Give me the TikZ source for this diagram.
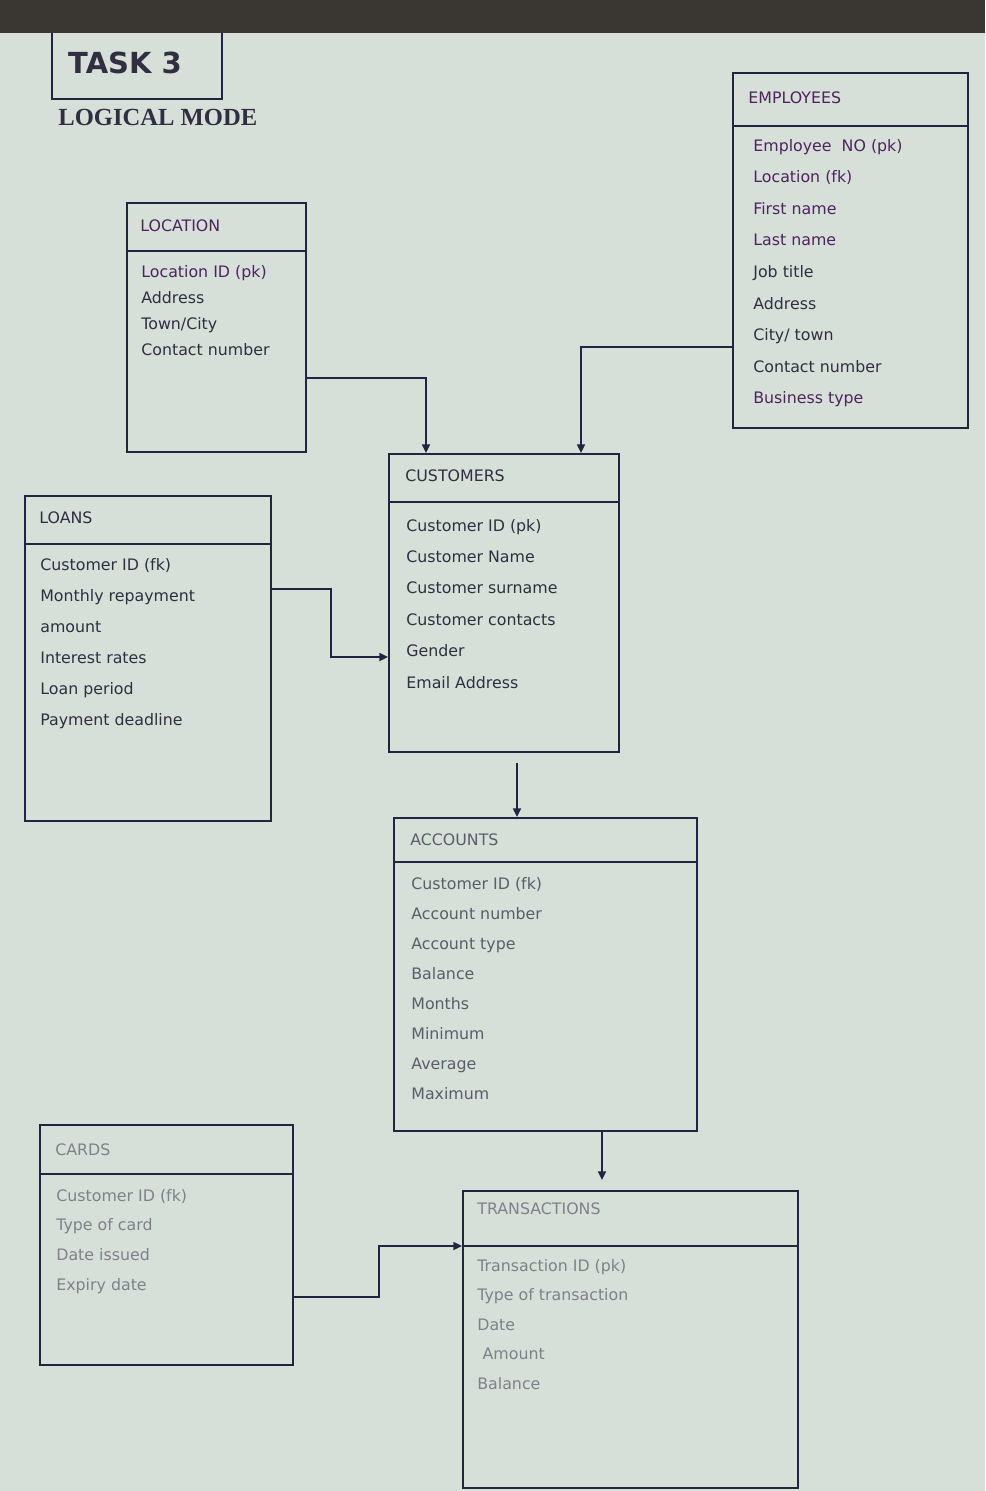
\documentclass[tikz,border=0pt]{standalone}
\usepackage{fontspec}
\setmainfont{DejaVu Sans}
\newfontfamily\serifbold{Liberation Serif}
\usetikzlibrary{arrows.meta,fit}

\definecolor{screen}{RGB}{214,224,216}
\definecolor{bezel}{RGB}{58,54,50}
\definecolor{edge}{RGB}{32,38,62}
\definecolor{inkpurple}{RGB}{78,36,92}
\definecolor{inkdark}{RGB}{48,46,64}
\definecolor{inkgrey}{RGB}{92,92,106}
\definecolor{inkpale}{RGB}{128,128,138}

\tikzset{
	tablebox/.style={draw=edge, line width=1.1pt, inner sep=0pt, fit={#1}},
	divider/.style={draw=edge, line width=1.5pt},
	tabletitle/.style={anchor=base west, inner sep=0pt, font=\fontsize{9}{11}\selectfont},
	rowtext/.style={anchor=base west, inner sep=0pt, font=\fontsize{9}{11}\selectfont},
	link/.style={draw=edge, line width=1.1pt, -{Triangle[length=5pt,width=4.5pt]}},
}

\begin{document}
\begin{tikzpicture}[x=0.02cm, y=-0.02cm]
\useasboundingbox (0,0) rectangle (985,1491);
\fill[screen] (0,0) rectangle (985,1491);

% title
\node[tablebox={(52,28) (222,99)}] (task) {};
\fill[bezel] (0,0) rectangle (985,33);
\node[font=\bfseries\fontsize{16.5}{18}\selectfont, text=inkdark] (task-label) at (125,63) {TASK 3};
\node[anchor=base west, inner sep=0pt, font=\serifbold\bfseries\fontsize{14}{16}\selectfont, text=inkdark] (mode) at (58,125) {LOGICAL MODE};

% employees
\node[tablebox={(733,73) (968,428)}] (emp) {};
\draw[divider] (emp.west |- 0,126) -- (emp.east |- 0,126);
\node[tabletitle, text=inkpurple] (emp-title) at (748,103) {EMPLOYEES};
\foreach \r [count=\i from 0] in {Employee\ \ NO (pk), Location (fk), First name, Last name,
	{\textcolor{inkdark}{Job title}}, {\textcolor{inkdark}{Address}}, {\textcolor{inkdark}{City/ town}},
	{\textcolor{inkdark}{Contact number}}, Business type}
	\node[rowtext, text=inkpurple] (emp-\i) at (753,151+31.6*\i) {\r};

% location
\node[tablebox={(127,203) (306,452)}] (loc) {};
\draw[divider] (loc.west |- 0,251) -- (loc.east |- 0,251);
\node[tabletitle, text=inkpurple] (loc-title) at (140,231) {LOCATION};
\foreach \r [count=\i from 0] in {{\textcolor{inkpurple}{Location ID (pk)}}, Address, Town/City, Contact number}
	\node[rowtext, text=inkdark] (loc-\i) at (141,277+26*\i) {\r};

% customers
\node[tablebox={(389,454) (619,752)}] (cust) {};
\draw[divider] (cust.west |- 0,502) -- (cust.east |- 0,502);
\node[tabletitle, text=inkdark] (cust-title) at (405,481) {CUSTOMERS};
\foreach \r [count=\i from 0] in {Customer ID (pk), Customer Name, Customer surname, Customer contacts, Gender, Email Address}
	\node[rowtext, text=inkdark] (cust-\i) at (406,531+31.4*\i) {\r};

% loans
\node[tablebox={(25,496) (271,821)}] (loans) {};
\draw[divider] (loans.west |- 0,544) -- (loans.east |- 0,544);
\node[tabletitle, text=inkdark] (loans-title) at (39,523) {LOANS};
\foreach \r [count=\i from 0] in {Customer ID (fk), Monthly repayment, amount, Interest rates, Loan period, Payment deadline}
	\node[rowtext, text=inkdark] (loans-\i) at (40,570+31*\i) {\r};

% accounts
\node[tablebox={(394,818) (697,1131)}] (acc) {};
\draw[divider] (acc.west |- 0,862) -- (acc.east |- 0,862);
\node[tabletitle, text=inkgrey] (acc-title) at (410,845) {ACCOUNTS};
\foreach \r [count=\i from 0] in {Customer ID (fk), Account number, Account type, Balance, Months, Minimum, Average, Maximum}
	\node[rowtext, text=inkgrey] (acc-\i) at (411,889+30.1*\i) {\r};

% cards
\node[tablebox={(40,1125) (293,1365)}] (cards) {};
\draw[divider] (cards.west |- 0,1174) -- (cards.east |- 0,1174);
\node[tabletitle, text=inkpale] (cards-title) at (55,1155) {CARDS};
\foreach \r [count=\i from 0] in {Customer ID (fk), Type of card, Date issued, Expiry date}
	\node[rowtext, text=inkpale] (cards-\i) at (56,1201+29.7*\i) {\r};

% transactions
\node[tablebox={(463,1191) (798,1488)}] (trans) {};
\draw[divider] (trans.west |- 0,1246) -- (trans.east |- 0,1246);
\node[tabletitle, text=inkpale] (trans-title) at (477,1214) {TRANSACTIONS};
\foreach \r [count=\i from 0] in {Transaction ID (pk), Type of transaction, Date, {\hspace{3pt}Amount}, Balance}
	\node[rowtext, text=inkpale] (trans-\i) at (477,1271+29.5*\i) {\r};

% relationships
\draw[link] (loc.east |- 0,378) -| (cust.north -| 426,0);
\draw[link] (emp.west |- 0,347) -| (cust.north -| 581,0);
\draw[link] (loans.east |- 0,589) -- ++(59,0) |- (cust.west |- 0,657);
\draw[link, shorten <=0.2cm] (cust.south -| 517,0) -- (acc.north -| 517,0);
\draw[link, shorten >=0.2cm] (acc.south -| 602,0) -- (trans.north -| 602,0);
\draw[link] (cards.east |- 0,1297) -- ++(85,0) |- (trans.west |- 0,1246);
\end{tikzpicture}
\end{document}
